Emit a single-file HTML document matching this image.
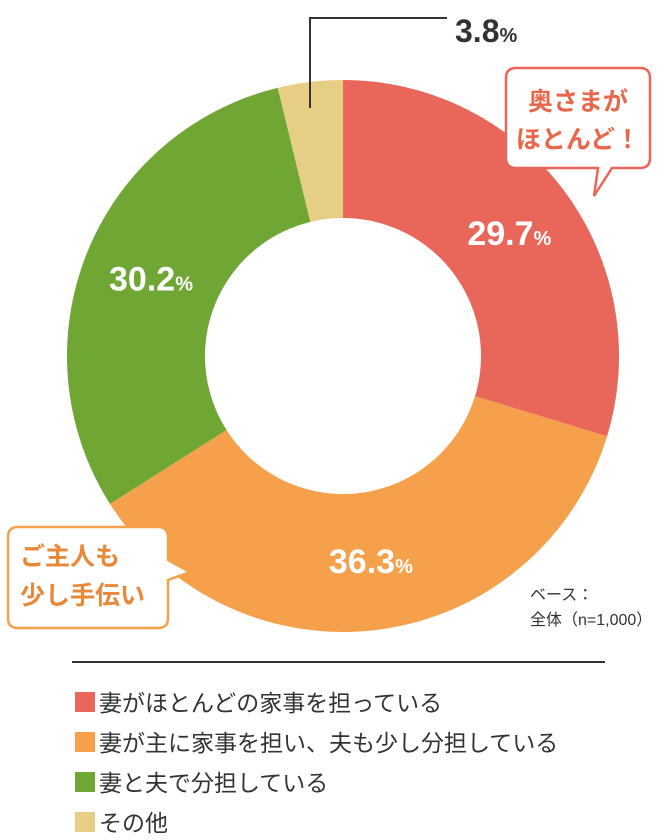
<!DOCTYPE html>
<html><head><meta charset="utf-8"><style>
body{margin:0;background:#fff;width:670px;height:840px;overflow:hidden;font-family:"Liberation Sans","Noto Sans CJK JP",sans-serif}
svg{position:absolute;left:0;top:0}
</style></head><body>
<svg width="670" height="840">
<g id="slices"></g>
<circle cx="343" cy="356" r="138" fill="#fff"/>
<g id="labels"></g>
<polyline points="310,108 310,18 447,18" fill="none" stroke="#333" stroke-width="2"/>
<text x="455" y="42" font-size="32" font-weight="bold" fill="#333">3.8<tspan font-size="20">%</tspan></text>
<g>
<path d="M516,68 H640 Q650,68 650,78 V158 Q650,168 640,168 H612 L594,196 L598,168 H516 Q506,168 506,158 V78 Q506,68 516,68 Z" fill="#fff" stroke="#e9675a" stroke-width="2.5"/>
<text x="578" y="110" font-size="25" font-weight="bold" fill="#e9674a" text-anchor="middle" font-family="Liberation Sans,Noto Sans CJK JP,sans-serif">奥さまが</text>
<text x="578" y="148" font-size="25" font-weight="bold" fill="#e9674a" text-anchor="middle" font-family="Liberation Sans,Noto Sans CJK JP,sans-serif">ほとんど！</text>
</g>
<g>
<path d="M18,527 H158 Q168,527 168,537 V560 L190,572 L168,580 V618 Q168,628 158,628 H18 Q8,628 8,618 V537 Q8,527 18,527 Z" fill="#fff" stroke="#f5a04a" stroke-width="2.5"/>
<text x="20" y="565" font-size="25" font-weight="bold" fill="#e8893a" font-family="Liberation Sans,Noto Sans CJK JP,sans-serif">ご主人も</text>
<text x="20" y="604" font-size="25" font-weight="bold" fill="#e8893a" font-family="Liberation Sans,Noto Sans CJK JP,sans-serif">少し手伝い</text>
</g>
<text x="530" y="600" font-size="16" fill="#333">ベース：</text>
<text x="530" y="625" font-size="16" fill="#333">全体（n=1,000）</text>
<line x1="72" y1="662" x2="605" y2="662" stroke="#333" stroke-width="2"/>
<g id="legend"></g>
</svg>
<script>
const categories=["妻がほとんどの家事を担っている","妻が主に家事を担い、夫も少し分担している","妻と夫で分担している","その他"];
const values=[29.7,36.3,30.2,3.8];
const colors=["#e9675a","#f5a04a","#6fa634","#e6cf84"];
const showLabel=[true,true,true,false];
const NS="http://www.w3.org/2000/svg";
const cx=343,cy=356,R=276,lr=207;
const total=values.reduce((a,b)=>a+b,0);
function ang(v){return v/total*2*Math.PI-Math.PI/2;}
function pt(a,r){return [cx+r*Math.cos(a),cy+r*Math.sin(a)];}
let cum=0;
const sg=document.getElementById('slices'),lg=document.getElementById('labels'),leg=document.getElementById('legend');
values.forEach((v,i)=>{
 const a0=ang(cum),a1=ang(cum+v);cum+=v;
 const p0=pt(a0,R),p1=pt(a1,R);
 const path=document.createElementNS(NS,'path');
 path.setAttribute('d',`M${cx},${cy} L${p0[0]},${p0[1]} A${R},${R} 0 ${v/total>0.5?1:0} 1 ${p1[0]},${p1[1]} Z`);
 path.setAttribute('fill',colors[i]);
 
 
 sg.appendChild(path);
 if(showLabel[i]){
  const m=pt((a0+a1)/2,lr);
  const t=document.createElementNS(NS,'text');
  t.setAttribute('x',m[0]);t.setAttribute('y',m[1]+12);
  t.setAttribute('text-anchor','middle');t.setAttribute('font-size','34');t.setAttribute('font-weight','bold');t.setAttribute('fill','#fff');
  t.innerHTML=v.toFixed(1)+'<tspan font-size="20">%</tspan>';
  
  
  lg.appendChild(t);
 }
 const y=692+i*40;
 const r=document.createElementNS(NS,'rect');
 r.setAttribute('x',75);r.setAttribute('y',y);r.setAttribute('width',20);r.setAttribute('height',20);r.setAttribute('fill',colors[i]);
 
 
 leg.appendChild(r);
 const t2=document.createElementNS(NS,'text');
 t2.setAttribute('x',99);t2.setAttribute('y',y+19);t2.setAttribute('font-size','23');t2.setAttribute('fill','#333');
 t2.textContent=categories[i];
 
 
 leg.appendChild(t2);
});
</script>
</body></html>
